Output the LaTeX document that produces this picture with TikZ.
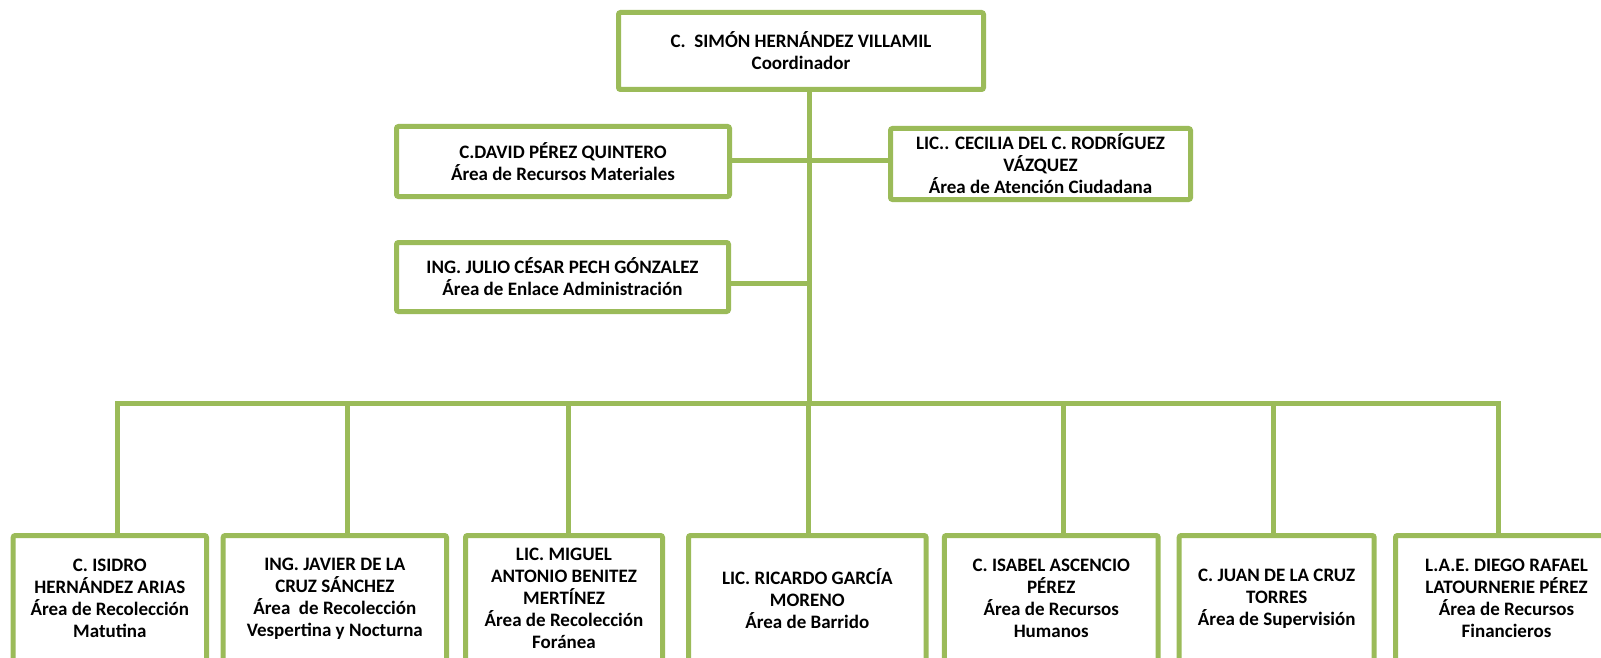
\documentclass[tikz,border=0pt]{standalone}
\usepackage{fontspec}
\setmainfont{Carlito}
\definecolor{ogreen}{HTML}{9BBB59}
\begin{document}
\begin{tikzpicture}[x=0.5pt,y=-0.5pt,
  box/.style={draw=ogreen,line width=2.5pt,fill=white,align=center,inner sep=0pt,
    rounded corners=1pt,font=\fontsize{9.5}{11}\selectfont\bfseries},
  link/.style={draw=ogreen,line width=2.5pt}]
\useasboundingbox (0,0) rectangle (1601,658);
\clip (0,0) rectangle (1601,658);
% top
\node[box,minimum width=182.5pt,minimum height=38.5pt] (top) at (801,51)
  {C.\ \ SIMÓN HERNÁNDEZ VILLAMIL\\Coordinador};
% middle
\node[box,minimum width=166.5pt,minimum height=35pt] (david) at (563,161.5)
  {C.DAVID PÉREZ QUINTERO\\Área de Recursos Materiales};
\node[box,minimum width=150pt,minimum height=35.5pt] (cecilia) at (1040.5,164)
  {LIC.. CECILIA DEL C. RODRÍGUEZ\\VÁZQUEZ\\Área de Atención Ciudadana};
\node[box,minimum width=166pt,minimum height=34.5pt] (julio) at (562.5,277)
  {ING. JULIO CÉSAR PECH GÓNZALEZ\\Área de Enlace Administración};
% bottom row
\node[box,minimum width=96.65pt,minimum height=63.25pt] (b1) at (109.85,598.75)
  {C. ISIDRO\\HERNÁNDEZ ARIAS\\Área de Recolección\\Matutina};
\node[box,minimum width=111.65pt,minimum height=63.25pt] (b2) at (334.85,598.75)
  {ING. JAVIER DE LA\\CRUZ SÁNCHEZ\\Área\ \ de Recolección\\Vespertina y Nocturna};
\node[box,minimum width=98.5pt,minimum height=63.25pt] (b3) at (564,598.75)
  {LIC. MIGUEL\\ANTONIO BENITEZ\\MERTÍNEZ\\Área de Recolección\\Foránea};
\node[box,minimum width=118.8pt,minimum height=63.25pt] (b4) at (807.3,598.75)
  {LIC. RICARDO GARCÍA\\MORENO\\Área de Barrido};
\node[box,minimum width=106.95pt,minimum height=63.25pt] (b5) at (1051.25,598.75)
  {C. ISABEL ASCENCIO\\PÉREZ\\Área de Recursos\\Humanos};
\node[box,minimum width=97.5pt,minimum height=63.25pt] (b6) at (1276.7,598.75)
  {C. JUAN DE LA CRUZ\\TORRES\\Área de Supervisión};
\node[box,minimum width=111pt,minimum height=63.25pt] (b7) at (1506.5,598.75)
  {L.A.E. DIEGO RAFAEL\\LATOURNERIE PÉREZ\\Área de Recursos\\Financieros};
% junction coordinates
\coordinate (tbar) at (809,403);
\coordinate (dj) at (809,160.5);
\coordinate (jj) at (809,283);
\coordinate (v1) at (117,403);
\coordinate (v2) at (347.5,403);
\coordinate (v3) at (568,403);
\coordinate (v4) at (808,403);
\coordinate (v5) at (1063,403);
\coordinate (v6) at (1273,403);
\coordinate (v7) at (1498,403);
% connectors
\draw[link] (top.south -| tbar) -- (tbar);
\draw[link] (dj -| david.east) -- (dj);
\draw[link] (dj) -- (dj -| cecilia.west);
\draw[link] (jj -| julio.east) -- (jj);
\draw[link] (b1.north -| v1) -- (v1) -- (v7) -- (b7.north -| v7);
\foreach \v/\b in {v2/b2,v3/b3,v4/b4,v5/b5,v6/b6}
  \draw[link] (\v) -- (\b.north -| \v);
\end{tikzpicture}
\end{document}
